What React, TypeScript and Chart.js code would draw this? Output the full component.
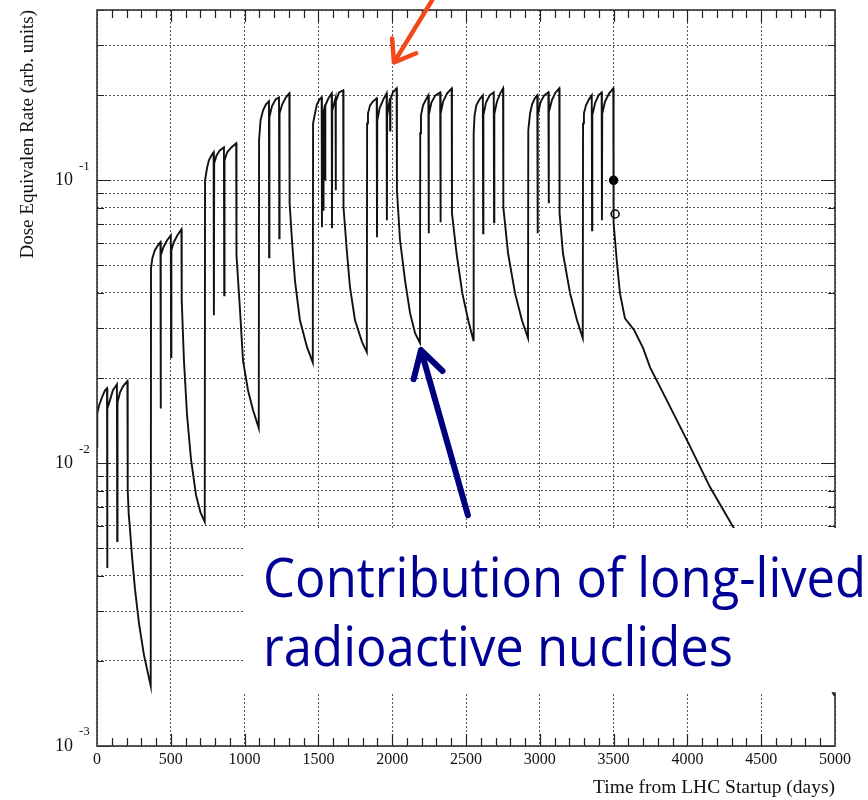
import React, { useEffect, useRef } from 'react';
import { Chart, registerables } from 'chart.js';

Chart.register(...registerables);

type P = [number, number];

// ---- data: [day, dose rate] ----
const year1: P[] = [
  [0, 0.0114], [2, 0.015], [14, 0.016], [34, 0.0171], [54, 0.0181], [68, 0.0184],
  [69, 0.00426], [71, 0.0156], [88, 0.0167], [108, 0.0181], [135, 0.019],
  [137, 0.0053], [139, 0.0164], [156, 0.0178], [176, 0.0187], [206, 0.0195],
  [208, 0.008], [215, 0.0066], [224, 0.0058], [237, 0.0047], [257, 0.0036], [285, 0.0027], [318, 0.0021], [364, 0.00163],
];
const year2: P[] = [
  [366, 0.0489], [375, 0.053], [392, 0.0566], [413, 0.0589], [430, 0.0604],
  [431, 0.0156], [433, 0.0543], [450, 0.058], [475, 0.0614], [500, 0.0639],
  [502, 0.0237], [504, 0.0566], [520, 0.0604], [545, 0.0639], [572, 0.0671],
  [574, 0.0377], [589, 0.0231], [610, 0.0148], [637, 0.0103], [671, 0.0077], [701, 0.0067], [730, 0.0062],
];
const year3: P[] = [
  [732, 0.1], [745, 0.1102], [758, 0.1177], [776, 0.1225], [790, 0.1256],
  [792, 0.0333], [794, 0.1149], [810, 0.1225], [832, 0.1276], [860, 0.1307],
  [862, 0.0392], [864, 0.1177], [882, 0.1256], [910, 0.1307], [943, 0.1351],
  [945, 0.0543], [969, 0.0347], [989, 0.0231], [1023, 0.0181], [1057, 0.0154], [1096, 0.0133],
];
const year4: P[] = [
  [1098, 0.1385], [1108, 0.1629], [1125, 0.1767], [1145, 0.1856], [1165, 0.1902],
  [1166, 0.0534], [1168, 0.167], [1185, 0.1826], [1210, 0.1933], [1233, 0.1965],
  [1235, 0.0624], [1237, 0.1725], [1255, 0.1856], [1280, 0.1965], [1303, 0.203],
  [1305, 0.0829], [1321, 0.0614], [1341, 0.0443], [1375, 0.032], [1423, 0.0257], [1462, 0.0227],
];
const year5: P[] = [
  [1464, 0.159], [1477, 0.1725], [1490, 0.1856], [1508, 0.1933], [1522, 0.1965],
  [1524, 0.0682], [1526, 0.1629], [1533, 0.1767], [1534, 0.078], [1536, 0.174], [1545, 0.185],
  [1546, 0.1], [1548, 0.184], [1568, 0.195], [1590, 0.203],
  [1592, 0.0677], [1594, 0.1767], [1610, 0.19], [1616, 0.195], [1617, 0.0922], [1619, 0.19], [1640, 0.2046], [1668, 0.208],
  [1670, 0.0803], [1694, 0.0552], [1714, 0.0419], [1748, 0.032], [1796, 0.0268], [1828, 0.0247],
];
const year6: P[] = [
  [1830, 0.159], [1836, 0.1725], [1850, 0.1841], [1870, 0.1902], [1895, 0.1949],
  [1897, 0.0629], [1899, 0.1629], [1915, 0.18], [1940, 0.1933], [1962, 0.203],
  [1964, 0.0722], [1966, 0.1697], [1976, 0.182], [1985, 0.195], [1986, 0.15], [1988, 0.193], [2005, 0.2046], [2030, 0.2114],
  [2032, 0.0922], [2053, 0.0614], [2087, 0.0443], [2121, 0.0339], [2155, 0.0288], [2188, 0.0266],
];
const year7: P[] = [
  [2190, 0.1466], [2195, 0.1697], [2209, 0.1841], [2229, 0.1933], [2245, 0.1997],
  [2247, 0.065], [2249, 0.17], [2265, 0.188], [2292, 0.1997], [2325, 0.2046],
  [2327, 0.071], [2329, 0.172], [2345, 0.19], [2372, 0.203], [2403, 0.2114],
  [2405, 0.0764], [2436, 0.0552], [2475, 0.0399], [2515, 0.032], [2550, 0.0272],
];
const year8: P[] = [
  [2552, 0.1466], [2558, 0.1697], [2570, 0.1841], [2592, 0.1933], [2614, 0.1997],
  [2616, 0.065], [2618, 0.17], [2635, 0.188], [2660, 0.1997], [2688, 0.2046],
  [2690, 0.071], [2692, 0.172], [2710, 0.19], [2732, 0.203], [2751, 0.2114],
  [2753, 0.0803], [2785, 0.0552], [2832, 0.0399], [2879, 0.032], [2920, 0.0277],
];
const year9: P[] = [
  [2922, 0.1502], [2934, 0.1725], [2948, 0.1856], [2966, 0.1949], [2983, 0.1997],
  [2985, 0.065], [2987, 0.17], [3005, 0.189], [3030, 0.1997], [3058, 0.2046],
  [3060, 0.0829], [3062, 0.174], [3082, 0.192], [3106, 0.204], [3132, 0.2114],
  [3134, 0.0764], [3157, 0.0552], [3205, 0.0399], [3252, 0.032], [3291, 0.0277],
];
const year10: P[] = [
  [3293, 0.159], [3299, 0.1725], [3313, 0.1841], [3333, 0.1933], [3352, 0.1997],
  [3354, 0.0666], [3356, 0.17], [3375, 0.188], [3398, 0.1997], [3419, 0.2046],
  [3421, 0.0722], [3423, 0.172], [3442, 0.19], [3470, 0.203], [3498, 0.2114],
];
const finalDecay: P[] = [
  [3500, 0.0704], [3523, 0.0509], [3543, 0.0399], [3577, 0.0325], [3640, 0.0295], [3700, 0.0255],
  [3747, 0.0218], [3860, 0.0167], [4006, 0.0118], [4153, 0.00823], [4322, 0.0058], [4492, 0.00412],
  [4661, 0.00293], [4831, 0.0021], [5000, 0.0015],
];
const markerPoints: P[] = [[3500, 0.1], [3510, 0.076]];

const doseCurve: P[] = [
  ...year1, ...year2, ...year3, ...year4, ...year5,
  ...year6, ...year7, ...year8, ...year9, ...year10, ...finalDecay,
];

// ---- axes ----
const xTickValues = [0, 500, 1000, 1500, 2000, 2500, 3000, 3500, 4000, 4500, 5000];
const xMinorStep = 100;
const yDecades = [0.001, 0.01, 0.1];
const yMultipliers = [1, 2, 3, 4, 5, 6, 7, 8, 9];
const yMin = 0.001;
const yMax = 0.4;
const yGridValues = yDecades
  .flatMap((d) => yMultipliers.map((m) => +(d * m).toPrecision(3)))
  .filter((v) => v <= yMax);

const xTitle = 'Time from LHC Startup (days)';
const yTitle = 'Dose Equivalen Rate (arb. units)';
const noteLines = ['Contribution of long-lived', 'radioactive nuclides'];

// annotation anchors in data coordinates
const noteBox = { fromDay: 990, top: 0.0059, bottom: 0.00155 };
const redArrow = { from: [2270, 0.4325], to: [2012, 0.261] };
const blueArrow = { from: [2513, 0.00655], to: [2195, 0.0251] };

const isDecade = (v: number) => Math.abs(Math.log10(v) - Math.round(Math.log10(v))) < 1e-6;

function drawArrow(ctx: CanvasRenderingContext2D, x1: number, y1: number, x2: number, y2: number,
  color: string, width: number, head: number, ang: number) {
  const a = Math.atan2(y1 - y2, x1 - x2);
  ctx.save();
  ctx.strokeStyle = color;
  ctx.lineWidth = width;
  ctx.lineCap = 'round';
  ctx.lineJoin = 'round';
  ctx.beginPath();
  ctx.moveTo(x1, y1);
  ctx.lineTo(x2, y2);
  ctx.moveTo(x2 + head * Math.cos(a + ang), y2 + head * Math.sin(a + ang));
  ctx.lineTo(x2, y2);
  ctx.lineTo(x2 + head * Math.cos(a - ang), y2 + head * Math.sin(a - ang));
  ctx.stroke();
  ctx.restore();
}

const decorPlugin = {
  id: 'decor',
  afterDraw(chart: any) {
    const { ctx, chartArea: a } = chart;
    const xs = chart.scales.x;
    const ys = chart.scales.y;
    ctx.save();
    // inward tick marks
    ctx.strokeStyle = '#222';
    ctx.lineWidth = 1.2;
    ctx.beginPath();
    for (let d = xMinorStep; d < 5000; d += xMinorStep) {
      const px = Math.round(xs.getPixelForValue(d)) + 0.5;
      const len = d % 500 === 0 ? 12 : 8;
      ctx.moveTo(px, a.bottom);
      ctx.lineTo(px, a.bottom - len);
      ctx.moveTo(px, a.top);
      ctx.lineTo(px, a.top + len);
    }
    for (const v of yGridValues) {
      const py = Math.round(ys.getPixelForValue(v)) + 0.5;
      const len = isDecade(v) ? 14 : 7;
      ctx.moveTo(a.left, py);
      ctx.lineTo(a.left + len, py);
      ctx.moveTo(a.right, py);
      ctx.lineTo(a.right - len, py);
    }
    ctx.stroke();
    // frame
    ctx.lineWidth = 1.6;
    ctx.strokeStyle = '#333';
    ctx.strokeRect(a.left, a.top, a.right - a.left, a.bottom - a.top);
    // exponents of the decade labels
    ctx.fillStyle = '#111';
    ctx.font = '13px "Liberation Serif"';
    ctx.textAlign = 'left';
    ctx.textBaseline = 'middle';
    for (const v of yGridValues) {
      if (isDecade(v)) {
        ctx.fillText(String(Math.round(Math.log10(v))), a.left - 18, ys.getPixelForValue(v) - 14);
      }
    }
    // white note box
    const bx = xs.getPixelForValue(noteBox.fromDay);
    const by = ys.getPixelForValue(noteBox.top);
    const bb = ys.getPixelForValue(noteBox.bottom);
    ctx.fillStyle = '#fff';
    ctx.fillRect(bx, by, chart.width - bx, bb - by);
    // note text
    ctx.fillStyle = '#000096';
    ctx.font = '54px "Open Sans"';
    ctx.textAlign = 'left';
    ctx.textBaseline = 'alphabetic';
    const w1 = ctx.measureText(noteLines[0]).width;
    const sx = Math.min(1, 603 / w1);
    const tx = bx + 20;
    [69, 138].forEach((off, i) => {
      ctx.save();
      ctx.translate(tx, by + off);
      ctx.scale(sx, 1);
      ctx.fillText(noteLines[i], 0, 0);
      ctx.restore();
    });
    // arrows
    drawArrow(ctx,
      xs.getPixelForValue(blueArrow.from[0]), ys.getPixelForValue(blueArrow.from[1]),
      xs.getPixelForValue(blueArrow.to[0]), ys.getPixelForValue(blueArrow.to[1]),
      '#00007f', 6, 30, Math.PI / 6);
    drawArrow(ctx,
      xs.getPixelForValue(redArrow.from[0]), ys.getPixelForValue(redArrow.from[1]),
      xs.getPixelForValue(redArrow.to[0]), ys.getPixelForValue(redArrow.to[1]),
      '#f2481a', 4.5, 24, Math.PI / 5);
    ctx.restore();
  },
};

export default function App() {
  const ref = useRef<HTMLCanvasElement>(null);
  useEffect(() => {
    const canvas = ref.current;
    if (!canvas) return;
    const serif = 'Liberation Serif';
    const chart = new Chart(canvas, {
      type: 'line',
      data: {
        datasets: [
          {
            data: doseCurve.map(([x, y]) => ({ x, y })),
            borderColor: '#111',
            borderWidth: 1.9,
            pointRadius: 0,
            tension: 0,
            fill: false,
          } as any,
          {
            type: 'scatter',
            data: markerPoints.map(([x, y]) => ({ x, y })),
            pointRadius: 4,
            pointBackgroundColor: ['#000', '#fff'],
            pointBorderColor: '#000',
            pointBorderWidth: 1.5,
            showLine: false,
          } as any,
        ],
      },
      options: {
        responsive: false,
        animation: false,
        devicePixelRatio: 1,
        events: [],
        layout: { padding: { left: 0, right: 33, top: 10, bottom: 0 } },
        plugins: { legend: { display: false }, tooltip: { enabled: false } },
        scales: {
          x: {
            type: 'linear',
            min: 0,
            max: 5000,
            afterBuildTicks: (s: any) => { s.ticks = xTickValues.map((v) => ({ value: v })); },
            afterFit: (s: any) => { s.height = 54; s.paddingLeft = 0; s.paddingRight = 0; },
            ticks: {
              font: { family: serif, size: 16 },
              color: '#111',
              padding: 4,
              maxRotation: 0,
              autoSkip: false,
              callback: (v: any) => String(v),
            },
            grid: { color: '#555', lineWidth: 1, drawTicks: false },
            border: { display: false, dash: [2, 2] },
            title: {
              display: true,
              text: xTitle,
              align: 'end',
              color: '#111',
              font: { family: serif, size: 19.5 },
              padding: { top: 0, bottom: 0 },
            },
          },
          y: {
            type: 'logarithmic',
            min: yMin,
            max: yMax,
            afterBuildTicks: (s: any) => { s.ticks = yGridValues.map((v) => ({ value: v })); },
            afterFit: (s: any) => { s.width = 97; s.paddingTop = 0; s.paddingBottom = 0; },
            ticks: {
              font: { family: serif, size: 18 },
              color: '#111',
              padding: 24,
              autoSkip: false,
              callback: (v: any) => (isDecade(Number(v)) ? '10' : ''),
            },
            grid: { color: '#555', lineWidth: 1, drawTicks: false },
            border: { display: false, dash: [2, 2] },
            title: {
              display: true,
              text: yTitle,
              align: 'end',
              color: '#111',
              font: { family: serif, size: 19 },
              padding: { top: 16.5, bottom: 0 },
            },
          },
        },
      } as any,
      plugins: [decorPlugin],
    });
    return () => chart.destroy();
  }, []);
  return (
    <div style={{ position: 'absolute', left: 0, top: 0, width: 868, height: 800, background: '#fff' }}>
      <canvas ref={ref} width={868} height={800} style={{ width: 868, height: 800, display: 'block' }} />
    </div>
  );
}
